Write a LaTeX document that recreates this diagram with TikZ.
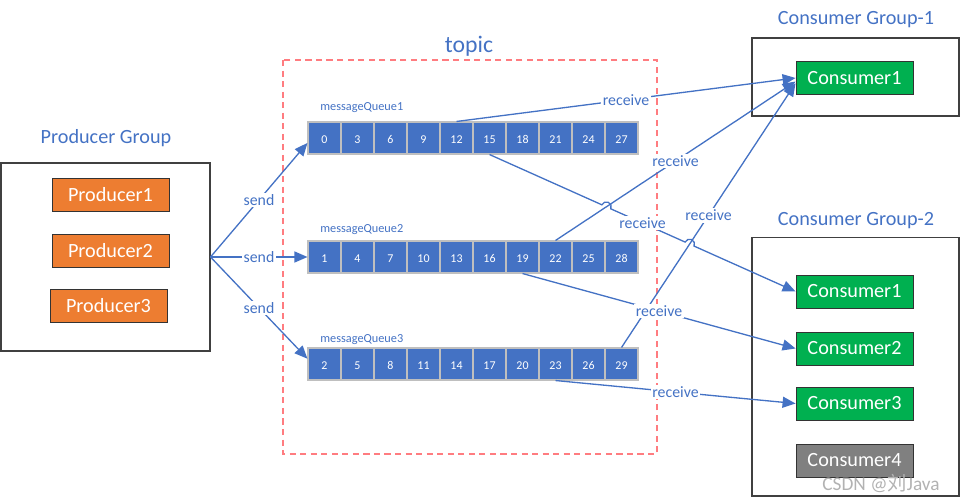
\documentclass[tikz,border=0pt]{standalone}
\usepackage{fontspec}
\setmainfont{Carlito}[Numbers=Lining]
\newfontfamily\cjkfont{Noto Sans CJK SC}
\usepackage{tikz}
\usetikzlibrary{shapes, arrows.meta, positioning, calc, intersections}

\definecolor{msgblue}{HTML}{4472C4}
\definecolor{prodorange}{HTML}{ED7D31}
\definecolor{consgreen}{HTML}{00B050}
\definecolor{topicred}{HTML}{FF7C80}

\tikzset{
    groupbox/.style={draw=black!75, line width=0.6pt, rectangle, minimum width=4.14cm},
    grouptitle/.style={text=msgblue, font=\fontsize{11.5}{13}\selectfont},
    member/.style={draw=black!80, line width=0.5pt, rectangle, text=white, minimum width=2.34cm, minimum height=0.66cm, inner sep=0pt, font=\fontsize{11.5}{13}\selectfont},
    cell/.style={draw=black!25, line width=0.6pt, fill=msgblue, text=white, minimum width=0.66cm, minimum height=0.64cm, inner sep=0pt, text height=1.4ex, text depth=0pt, font=\fontsize{6.8}{8}\selectfont},
    qlabel/.style={text=msgblue, anchor=west, inner sep=0pt, font=\fontsize{7}{8}\selectfont},
    flow/.style={draw=msgblue, line width=0.75pt, -{Triangle[length=0.26cm, width=0.22cm]}},
    flowtag/.style={fill=white, text=msgblue, inner sep=1pt, font=\fontsize{9}{10}\selectfont}
}

\begin{document}
\begin{tikzpicture}[x=0.02cm, y=-0.02cm]
            \useasboundingbox (0,0) rectangle (961,497);

            % topic
            \draw[topicred, line width=0.6pt, dash pattern=on 3.5pt off 2.5pt] (283,60) rectangle (657,454);
            \node[text=msgblue, font=\fontsize{13.5}{15}\selectfont] (topic) at (469,46) {topic};

            % producers
            \node[groupbox, minimum width=4.18cm, minimum height=3.76cm] (pg) at (105.5,257) {};
            \node[grouptitle] (pgtitle) at (106,138) {Producer Group};
            \node[member, fill=prodorange] (p1) at (110.5,194.5) {Producer1};
            \node[member, fill=prodorange] (p2) at (110.5,250.5) {Producer2};
            \node[member, fill=prodorange] (p3) at (108.5,305.5) {Producer3};

            % queues
            \foreach \q/\y/\ly in {1/138/108, 2/257/230, 3/364/340} {
                \node[qlabel] (mq\q) at (320,\ly) {messageQueue\q};
                \foreach \i in {0,...,9} {
                    \pgfmathtruncatemacro{\v}{3*\i+\q-1}
                    \node[cell] (q\q c\i) at (324.5+33*\i,\y) {\v};
                }
            }

            % consumers
            \node[groupbox, minimum height=1.56cm] (cg1) at (855.5,77) {};
            \node[grouptitle] (cg1title) at (856,20) {Consumer Group-1};
            \node[member, fill=consgreen] (g1c1) at (854.5,78) {Consumer1};
            \node[groupbox, minimum height=5.18cm] (cg2) at (855.5,366.5) {};
            \node[grouptitle] (cg2title) at (856,221) {Consumer Group-2};
            \node[member, fill=consgreen] (g2c1) at (854.5,291.5) {Consumer1};
            \node[member, fill=consgreen] (g2c2) at (854.5,348.5) {Consumer2};
            \node[member, fill=consgreen] (g2c3) at (854.5,403.5) {Consumer3};
            \node[member, fill=black!50] (g2c4) at (854.5,460.5) {Consumer4};

            % send
            \coordinate (out) at (pg.east);
            \draw[flow] (out) -- node[flowtag] {send} ([yshift=-2.8pt]q1c0.west);
            \draw[flow] (out) -- node[flowtag] {send} (q2c0.west);
            \draw[flow] (out) -- node[flowtag] {send} ([yshift=3pt]q3c0.west);

            % receive
            \draw[flow] (q1c4.north) -- node[flowtag] {receive} (g1c1.west);
            \draw[flow, name path=r2] (q2c7.north) -- node[flowtag] {receive} ([yshift=-2pt]g1c1.west);
            \draw[flow, name path=r3] (q3c9.north) -- node[flowtag] {receive} ([yshift=-3pt]g1c1.west);
            \path[name path=r4] (q1c5.south) -- (g2c1.west);
            \path[name intersections={of=r4 and r2, by=h1}];
            \path[name intersections={of=r4 and r3, by=h2}];
            \draw[flow] (q1c5.south) -- ($(h1)!2.8pt!(q1c5.south)$) arc[start angle=155.8, end angle=-24.2, radius=2.8pt]
                -- ($(h2)!2.8pt!(q1c5.south)$) arc[start angle=155.8, end angle=-24.2, radius=2.8pt] -- (g2c1.west);
            \node[flowtag] (tag4) at ($(q1c5.south)!0.5!(g2c1.west)$) {receive};
            \draw[flow] (q2c6.south) -- node[flowtag] {receive} (g2c2.west);
            \draw[flow] (q3c7.south) -- node[flowtag] {receive} (g2c3.west);

            \node[text=black!30, font=\fontsize{11}{13}\selectfont] (mark) at (881,483) {CSDN @{\cjkfont 刘}Java};
        \end{tikzpicture}
\end{document}
